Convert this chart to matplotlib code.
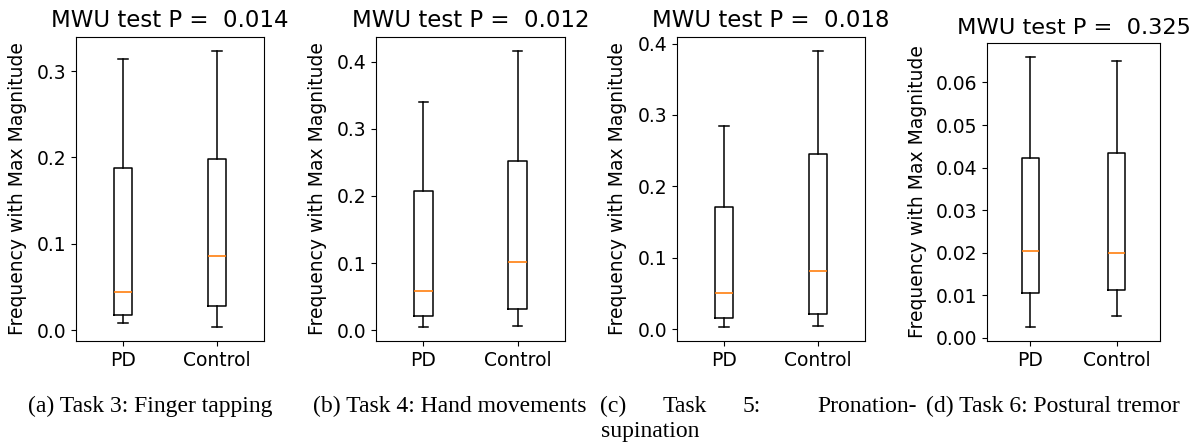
import matplotlib
matplotlib.use("Agg")
import matplotlib.pyplot as plt
from matplotlib.ticker import MultipleLocator

groups = ["PD", "Control"]
p_values = ["0.014", "0.012", "0.018", "0.325"]
captions = ["(a) Task 3: Finger tapping", "(b) Task 4: Hand movements",
            "(c) Task 5: Pronation-supination", "(d) Task 6: Postural tremor"]

# per task: [PD, Control] -> (low whisker, q1, median, q3, high whisker)
task3 = [(0.0088, 0.0177, 0.0438, 0.1877, 0.3135), (0.0035, 0.0280, 0.0858, 0.1980, 0.3235)]
task4 = [(0.0045, 0.0213, 0.0580, 0.2070, 0.3406), (0.0060, 0.0310, 0.1015, 0.2520, 0.4163)]
task5 = [(0.0028, 0.0158, 0.0511, 0.1714, 0.2848), (0.0051, 0.0218, 0.0818, 0.2458, 0.3898)]
task6 = [(0.0024, 0.0105, 0.0204, 0.0423, 0.0661), (0.0052, 0.0111, 0.0199, 0.0435, 0.0651)]
tasks = [task3, task4, task5, task6]
tick_step = [0.1, 0.1, 0.1, 0.01]

W, H = 1198, 445
fig = plt.figure(figsize=(W / 100, H / 100), dpi=100)

# axes boxes in pixels: left, top, width, bottom
boxes = [(76, 37, 188, 341), (376, 37, 189, 341), (677, 37, 188, 341), (987, 43, 173, 341)]
label_x = [-0.26, -0.259, -0.266, -0.347]

for i, task in enumerate(tasks):
    l, t, w, b = boxes[i]
    ax = fig.add_axes([l / W, (H - b) / H, w / W, (b - t) / H])
    stats = []
    for name, (lo, q1, med, q3, hi) in zip(groups, task):
        stats.append({"label": name, "whislo": lo, "q1": q1, "med": med,
                      "q3": q3, "whishi": hi, "fliers": []})
    ax.bxp(stats, showfliers=False, widths=0.2, capwidths=0.1,
           boxprops=dict(color="black", linewidth=1.1),
           whiskerprops=dict(color="black", linewidth=1.1),
           capprops=dict(color="black", linewidth=1.1),
           medianprops=dict(color="#ff7f0e", linewidth=1.2))
    ax.yaxis.set_major_locator(MultipleLocator(tick_step[i]))
    ax.tick_params(labelsize=13.5)
    ax.set_ylabel("Frequency with Max Magnitude", fontsize=13.5)
    ax.set_title("MWU test P =  " + p_values[i], fontsize=16.5 if i < 3 else 16.2,
                 pad=7 if i < 3 else 6.5)
    ax.yaxis.set_label_coords(label_x[i], 0.5)

cap_font = dict(family="Liberation Serif", fontsize=17, va="center")
y1 = 1 - 406 / H
y2 = 1 - 432 / H
fig.text(150 / W, y1, captions[0], ha="center", **cap_font)
fig.text(450 / W, y1, captions[1], ha="center", **cap_font)
fig.text(1053 / W, y1, captions[3], ha="center", **cap_font)
# justified two-line caption for task 5
words = captions[2].split(" ")
fig.text(600 / W, y1, words[0], ha="left", **cap_font)
fig.text(685 / W, y1, words[1], ha="center", **cap_font)
fig.text(752 / W, y1, words[2], ha="center", **cap_font)
first, second = words[3].split("-")
fig.text(917 / W, y1, first + "-", ha="right", **cap_font)
fig.text(601 / W, y2, second, ha="left", **cap_font)

fig.savefig("out.png", dpi=100)
